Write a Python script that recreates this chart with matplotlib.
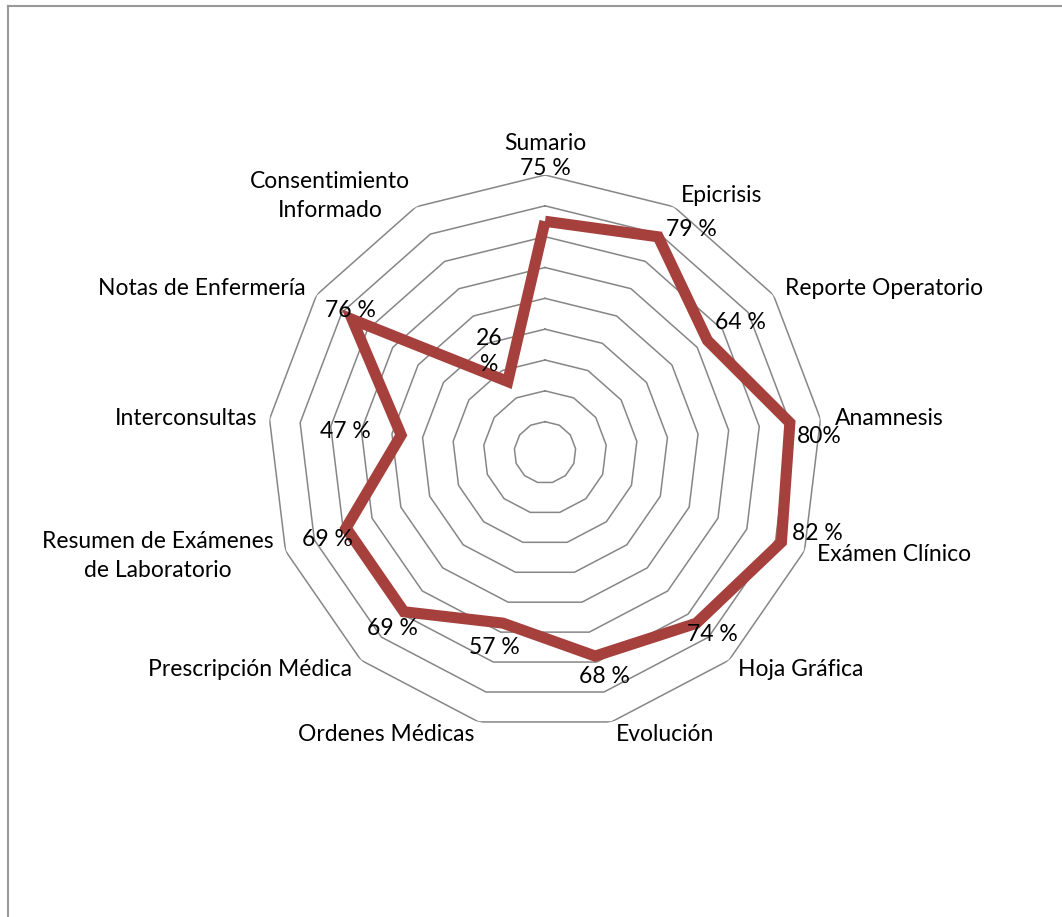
import numpy as np
import matplotlib
matplotlib.use("Agg")
import matplotlib.pyplot as plt
from matplotlib.lines import Line2D

categories = ["Sumario", "Epicrisis", "Reporte Operatorio", "Anamnesis",
              "Exámen Clínico", "Hoja Gráfica", "Evolución", "Ordenes Médicas",
              "Prescripción Médica", "Resumen de Exámenes\nde Laboratorio",
              "Interconsultas", "Notas de Enfermería", "Consentimiento\nInformado"]
values = [75, 79, 64, 80, 82, 74, 68, 57, 69, 69, 47, 76, 26]
value_labels = ["75 %", "79 %", "64 %", "80%", "82 %", "74 %", "68 %", "57 %",
                "69 %", "69 %", "47 %", "76 %", "26\n%"]
ring_levels = [10, 20, 30, 40, 50, 60, 70, 80, 90]

# label offsets (pixels) relative to data point / outer vertex
val_offsets = [(0, 53), (33, 7), (33, 18), (29, -14), (36, 9), (16, -11), (9, -20),
               (-9, -24), (-11, -17), (-19, -12), (-56, 4), (-2, 9), (-19, 30)]
cat_offsets = [(0, 31), (7, 11), (12, 6), (14, 1), (13, -4), (9, -9), (4, -13),
               (-4, -13), (-9, -9), (-12, -5), (-12, 1), (-11, 6), (-6, 11)]
cat_ha = ["center", "left", "left", "left", "left", "left", "left",
          "right", "right", "right", "right", "right", "right"]

W, H = 1062, 917
fig = plt.figure(figsize=(W / 100, H / 100), dpi=100)
plt.rcParams['font.family'] = ['Lato', 'DejaVu Sans']

cx, cy, R = 545, 452.5, 277.5
ax = fig.add_axes([(cx - R) / W, (H - cy - R) / H, 2 * R / W, 2 * R / H],
                  projection='polar')
ax.set_theta_offset(np.pi / 2)
ax.set_theta_direction(-1)
ax.set_ylim(0, ring_levels[-1])
ax.grid(False)
ax.spines['polar'].set_visible(False)
ax.set_xticks([])
ax.set_yticks([])
ax.patch.set_alpha(0)

n = len(categories)
theta = np.arange(n) * 2 * np.pi / n
theta_closed = np.append(theta, theta[0])

for lev in ring_levels:
    ax.plot(theta_closed, [lev] * (n + 1), color='#868686', lw=1.1, zorder=1)

vals_closed = np.append(values, values[0])
ax.plot(theta_closed, vals_closed, color='#A6403D', lw=8, solid_joinstyle='miter',
        solid_capstyle='butt', zorder=3)

fs = 16.5
for t, v, lab, off in zip(theta, values, value_labels, val_offsets):
    ax.annotate(lab, xy=(t, v), xytext=off, textcoords='offset pixels',
                ha='center', va='center', fontsize=fs, color='black', zorder=4,
                linespacing=1.25)

for t, lab, off, ha in zip(theta, categories, cat_offsets, cat_ha):
    ax.annotate(lab, xy=(t, ring_levels[-1]), xytext=off, textcoords='offset pixels',
                ha=ha, va='center', fontsize=fs, color='black', zorder=4,
                multialignment='center', linespacing=1.45, annotation_clip=False)

# chart border (top and left edges visible)
fig.add_artist(Line2D([7.5 / W, 1.0], [1 - 5.5 / H, 1 - 5.5 / H],
                      transform=fig.transFigure, color='#999999', lw=1.5))
fig.add_artist(Line2D([7.5 / W, 7.5 / W], [0, 1 - 5.5 / H],
                      transform=fig.transFigure, color='#999999', lw=1.5))

fig.savefig("out.png", dpi=100)
